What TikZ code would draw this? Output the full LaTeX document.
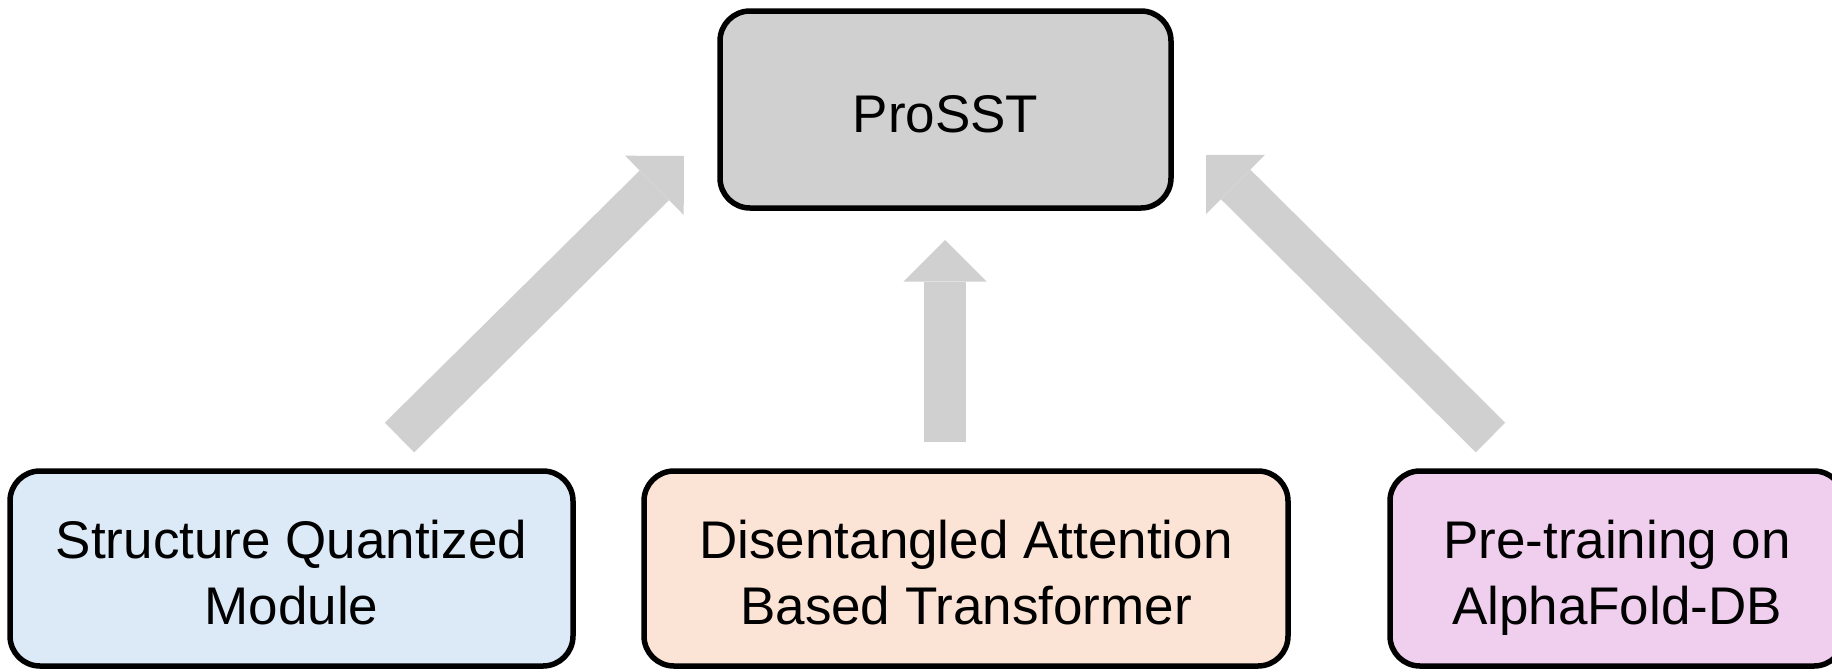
\documentclass[tikz,border=0pt]{standalone}
\usepackage{fontspec}
\setmainfont{Liberation Sans}
\usetikzlibrary{arrows.meta}

\definecolor{boxgray}{HTML}{D0D0D0}
\definecolor{boxblue}{HTML}{DCE9F6}
\definecolor{boxpeach}{HTML}{FBE3D6}
\definecolor{boxpink}{HTML}{F0CFEE}
\definecolor{arrowgray}{HTML}{D0D0D0}

% invisible struts: a fixed top and bottom for every label, so that
% descenders do not shift the text inside its box
\newcommand\labelpad{\rule{0pt}{29pt}}
\newcommand\labelend{\rule[-5.6pt]{0pt}{5.6pt}}

\tikzset{
  block/.style={draw=black, line width=2.75pt, rounded corners=15pt,
    inner sep=0pt, align=center, text=black,
    font=\fontsize{26.5pt}{33pt}\selectfont},
  fatarrow/.style={draw=arrowgray, line width=20.85pt, line cap=butt,
    -{Triangle[length=20.85pt, width=41.7pt, line width=0pt, fill=arrowgray]}}
}

\begin{document}
\begin{tikzpicture}[x=0.5pt, y=-0.5pt]
  \useasboundingbox (0,0) rectangle (1832,671);
  \clip (0,0) rectangle (1832,671);

  % top: the model
  \node[block, fill=boxgray, minimum width=225.5pt, minimum height=98.5pt]
    (prosst) at (945.5,109.5) {\labelpad ProSST\labelend};

  % bottom: its three components
  \node[block, fill=boxblue, minimum width=281.5pt, minimum height=97.5pt]
    (sqm) at (291.5,568.5) {\labelpad Structure Quantized\\Module\labelend};
  \node[block, fill=boxpeach, minimum width=322pt, minimum height=97.5pt]
    (dat) at (966,568.5) {\labelpad Disentangled Attention\\Based Transformer\labelend};
  \node[block, fill=boxpink, minimum width=227pt, minimum height=97.5pt]
    (afdb) at (1617,568.5) {\labelpad Pre-training on\\AlphaFold-DB\labelend};

  % arrow end points
  \coordinate (lTail) at (399.5,437.5);
  \coordinate (lTip)  at (684,156);
  \coordinate (mTail) at (945,442);
  \coordinate (mTip)  at (945,240);
  \coordinate (rTail) at (1490.5,437.5);
  \coordinate (rTip)  at (1206,155);

  % block arrows pointing up to the model
  \draw[fatarrow] (lTail) -- (lTip);
  \draw[fatarrow] (mTail) -- (mTip);
  \draw[fatarrow] (rTail) -- (rTip);
\end{tikzpicture}
\end{document}
